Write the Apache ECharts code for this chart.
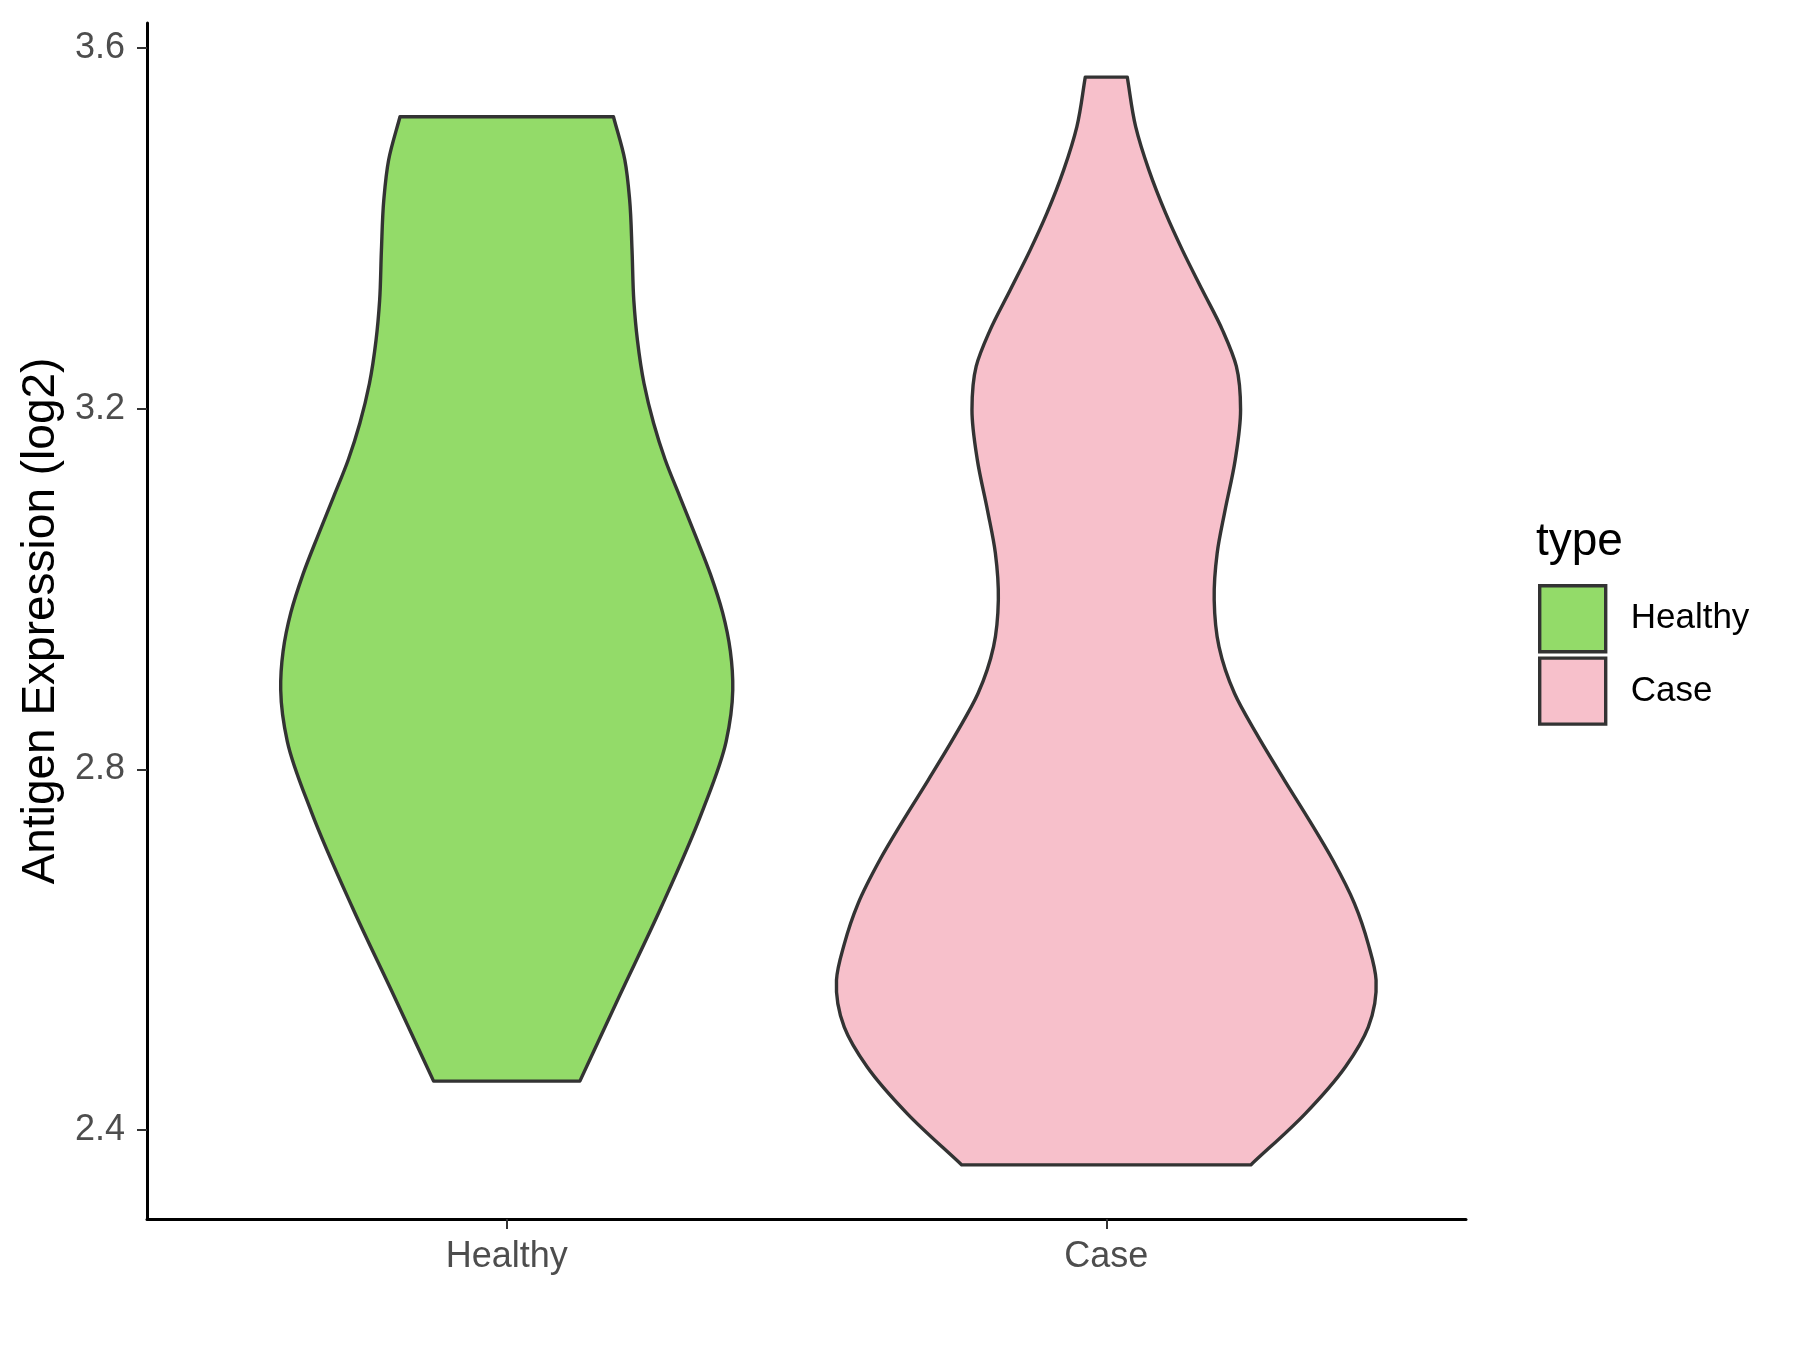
<!DOCTYPE html>
<html>
<head>
<meta charset="utf-8">
<title>Antigen Expression (log2)</title>
<script src="https://cdn.jsdelivr.net/npm/echarts@6/dist/echarts.min.js"></script>
<style>
  html, body { margin: 0; padding: 0; background: #ffffff; }
  #chart { width: 1800px; height: 1350px; }
</style>
</head>
<body>
<div id="chart"></div>
<script>
// Groups on the x axis (placed at x = 1, 2)
const categories = ['Healthy', 'Case'];
const fillColors = ['#93DB69', '#F7C0CB'];

// Violin outlines: expression value (log2) and density half-width (in group units), bottom to top
const healthyY = [2.454, 2.547, 2.646, 2.753, 2.831, 2.888, 2.931, 2.974, 3.016, 3.059, 3.102, 3.144, 3.184, 3.228, 3.276, 3.320, 3.376, 3.432, 3.476, 3.524];
const healthyHalfWidth = [0.122, 0.187, 0.257, 0.326, 0.366, 0.377, 0.373, 0.360, 0.340, 0.315, 0.289, 0.264, 0.245, 0.229, 0.218, 0.212, 0.209, 0.205, 0.197, 0.178];

const caseY = [2.361, 2.418, 2.470, 2.514, 2.566, 2.606, 2.651, 2.699, 2.743, 2.788, 2.840, 2.884, 2.936, 2.988, 3.040, 3.087, 3.143, 3.199, 3.247, 3.287, 3.332, 3.376, 3.417, 3.465, 3.513, 3.568];
const caseHalfWidth = [0.241, 0.332, 0.399, 0.437, 0.450, 0.437, 0.414, 0.378, 0.339, 0.297, 0.250, 0.214, 0.188, 0.180, 0.185, 0.198, 0.215, 0.224, 0.217, 0.194, 0.160, 0.127, 0.099, 0.071, 0.049, 0.035];

// Y axis ticks
const yTicks = [2.4, 2.8, 3.2, 3.6];

const profiles = [
  { y: healthyY, h: healthyHalfWidth },
  { y: caseY, h: caseHalfWidth }
];

const FONT = "'Liberation Sans', Arial, sans-serif";

// Smooth outline x(y) through pixel points: cubic Hermite with
// spacing-weighted tangents, written as bezier segments.
function splineSegments(pts) {
  const n = pts.length;
  const dy = [], s = [];
  for (let i = 0; i < n - 1; i++) {
    dy.push(pts[i + 1][1] - pts[i][1]);
    s.push((pts[i + 1][0] - pts[i][0]) / dy[i]);
  }
  const m = [];
  for (let i = 0; i < n; i++) {
    if (i === 0) m.push(s[0]);
    else if (i === n - 1) m.push(s[n - 2]);
    else m.push((s[i - 1] * dy[i] + s[i] * dy[i - 1]) / (dy[i - 1] + dy[i]));
  }
  let d = '';
  for (let i = 0; i < n - 1; i++) {
    const p1 = pts[i], p2 = pts[i + 1], h = dy[i];
    const c1x = p1[0] + m[i] * h / 3, c1y = p1[1] + h / 3;
    const c2x = p2[0] - m[i + 1] * h / 3, c2y = p2[1] - h / 3;
    d += ' C' + c1x.toFixed(2) + ',' + c1y.toFixed(2) + ' ' +
         c2x.toFixed(2) + ',' + c2y.toFixed(2) + ' ' +
         p2[0].toFixed(2) + ',' + p2[1].toFixed(2);
  }
  return d;
}

function renderViolin(params, api) {
  const cx = api.value(0);
  const prof = profiles[params.seriesIndex];
  const right = prof.y.map((v, i) => api.coord([cx + prof.h[i], v]));
  const left = prof.y.map((v, i) => api.coord([cx - prof.h[i], v])).reverse();
  let d = 'M' + right[0][0].toFixed(2) + ',' + right[0][1].toFixed(2);
  d += splineSegments(right);
  d += ' L' + left[0][0].toFixed(2) + ',' + left[0][1].toFixed(2);
  d += splineSegments(left);
  d += ' Z';
  return {
    type: 'path',
    shape: { pathData: d },
    style: {
      fill: fillColors[params.seriesIndex],
      stroke: '#333333',
      lineWidth: 3.4,
      lineJoin: 'round'
    }
  };
}

const chart = echarts.init(document.getElementById('chart'), null, { renderer: 'canvas' });

chart.setOption({
  animation: false,
  backgroundColor: '#ffffff',
  grid: { left: 147, right: 334, top: 23, bottom: 131, containLabel: false },
  xAxis: {
    type: 'value',
    min: 0.4,
    max: 2.6,
    splitLine: { show: false },
    axisLine: { show: true, onZero: false, lineStyle: { color: '#000000', width: 3 } },
    axisTick: { show: true, length: 10, customValues: [1, 2], lineStyle: { color: '#333333', width: 2 } },
    axisLabel: {
      customValues: [1, 2],
      formatter: v => categories[Math.round(v) - 1],
      color: '#4D4D4D',
      fontSize: 36,
      fontFamily: FONT,
      margin: 20
    }
  },
  yAxis: {
    type: 'value',
    min: 2.301,
    max: 3.628,
    name: 'Antigen Expression (log2)',
    nameLocation: 'middle',
    nameGap: 83,
    nameTextStyle: { color: '#000000', fontSize: 46, fontFamily: FONT },
    splitLine: { show: false },
    axisLine: { show: true, onZero: false, lineStyle: { color: '#000000', width: 3 } },
    axisTick: { show: true, length: 10, customValues: yTicks, lineStyle: { color: '#333333', width: 2 } },
    axisLabel: {
      customValues: yTicks,
      formatter: v => v.toFixed(1),
      color: '#4D4D4D',
      fontSize: 36,
      fontFamily: FONT,
      margin: 22
    }
  },
  legend: {
    orient: 'vertical',
    left: 1538,
    top: 584,
    padding: 0,
    itemWidth: 66,
    itemHeight: 66,
    itemGap: 3,
    selectedMode: false,
    textStyle: { color: '#000000', fontSize: 35, fontFamily: FONT, padding: [0, 0, 0, 20] },
    data: categories.map((name, i) => ({
      name: name,
      icon: 'rect',
      itemStyle: { color: fillColors[i], borderColor: '#333333', borderWidth: 3.4 }
    }))
  },
  graphic: [{
    type: 'text',
    left: 1536,
    top: 519,
    style: { text: 'type', fill: '#000000', font: '46px ' + FONT }
  }],
  series: categories.map((name, i) => ({
    type: 'custom',
    name: name,
    renderItem: renderViolin,
    itemStyle: { color: fillColors[i], borderColor: '#333333', borderWidth: 3.4 },
    encode: { x: 0, y: 1 },
    data: [[i + 1, 2.9]]
  }))
});
</script>
</body>
</html>
